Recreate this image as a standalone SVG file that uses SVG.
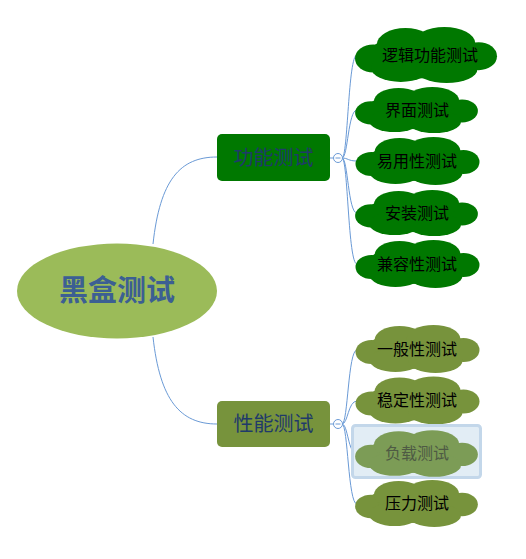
<svg xmlns="http://www.w3.org/2000/svg" xmlns:xlink="http://www.w3.org/1999/xlink" width="526" height="559" viewBox="0 0 526 559">
<style>
.conn{fill:none;stroke:#6A9AD6;stroke-width:1}
.ct{font-family:"Noto Sans CJK SC","Noto Sans",sans-serif;font-size:16px;fill:#000;text-anchor:middle}
.bt{font-family:"Noto Sans CJK SC","Noto Sans",sans-serif;font-size:20px;fill:#1F3A6A;text-anchor:middle}
.toggle{fill:#fff;stroke:#6A9AD6;stroke-width:1}
.green{fill:#007800}
.olive{fill:#77933C}
</style>
<defs>
<g id="cloud">
<ellipse cx="0" cy="1" rx="52" ry="19"/>
<ellipse cx="-46" cy="3" rx="16" ry="12"/>
<ellipse cx="46" cy="1" rx="16" ry="12"/>
<ellipse cx="-18" cy="-9" rx="25" ry="14"/>
<ellipse cx="16" cy="-10" rx="27" ry="14"/>
<ellipse cx="-22" cy="11" rx="26" ry="12"/>
<ellipse cx="18" cy="12" rx="27" ry="12"/>
</g>
</defs>
<rect width="526" height="559" fill="#fff"/>
<g id="connectors">
<path class="conn" d="M153,244 C160,180 180,157 217,157"/>
<path class="conn" d="M153,337 C160,400 180,424 217,424"/>
<path class="conn" d="M330,158 L333,158"/>
<path class="conn" d="M330,424 L333,424"/>
<path class="conn" d="M342,158 C348,158 348,55 357,55"/>
<path class="conn" d="M342,158 C348,158 348,110 357,110"/>
<path class="conn" d="M342,158 C348,158 348,161 357,161"/>
<path class="conn" d="M342,158 C348,158 348,213 357,213"/>
<path class="conn" d="M342,158 C348,158 348,264 357,264"/>
<path class="conn" d="M342,424 C348,424 348,350 357,350"/>
<path class="conn" d="M342,424 C348,424 348,401 357,401"/>
<path class="conn" d="M342,424 C348,424 348,454 357,454"/>
<path class="conn" d="M342,424 C348,424 348,504 357,504"/>
</g>
<g id="root">
<ellipse cx="117" cy="291" rx="100" ry="47.5" fill="#9BBB59"/>
<text x="117" y="301" font-family="'Noto Sans CJK SC','Noto Sans',sans-serif" font-size="29" font-weight="bold" fill="#3C5F93" text-anchor="middle">黑盒测试</text>
</g>
<g id="branch-func">
<rect x="217" y="134" width="113" height="47" rx="5" class="green"/>
<text class="bt" x="273.5" y="164.5">功能测试</text>
<circle class="toggle" cx="338" cy="158" r="4.5"/>
<line x1="335.5" y1="158" x2="340.5" y2="158" stroke="#6A9AD6" stroke-width="1"/>
</g>
<g id="branch-perf">
<rect x="217" y="401" width="113" height="46" rx="5" class="olive"/>
<text class="bt" x="273.5" y="431">性能测试</text>
<circle class="toggle" cx="338" cy="424" r="4.5"/>
<line x1="335.5" y1="424" x2="340.5" y2="424" stroke="#6A9AD6" stroke-width="1"/>
</g>
<g id="c1"><use xlink:href="#cloud" class="green" transform="translate(426,55) scale(1.145,1.17)"/><text class="ct" x="430" y="60.5">逻辑功能测试</text></g>
<g id="c2"><use xlink:href="#cloud" class="green" transform="translate(416.5,110) scale(0.99,0.96)"/><text class="ct" x="417" y="115.5">界面测试</text></g>
<g id="c3"><use xlink:href="#cloud" class="green" transform="translate(417.5,161)"/><text class="ct" x="417" y="166.5">易用性测试</text></g>
<g id="c4"><use xlink:href="#cloud" class="green" transform="translate(416.5,213) scale(0.99,0.96)"/><text class="ct" x="417" y="218.5">安装测试</text></g>
<g id="c5"><use xlink:href="#cloud" class="green" transform="translate(417.5,264)"/><text class="ct" x="417" y="269.5">兼容性测试</text></g>
<g id="c6"><use xlink:href="#cloud" class="olive" transform="translate(417.5,349)"/><text class="ct" x="417" y="355">一般性测试</text></g>
<g id="c7"><use xlink:href="#cloud" class="olive" transform="translate(417.5,400.5)"/><text class="ct" x="417" y="406">稳定性测试</text></g>
<g id="c8">
<rect x="352.5" y="425.5" width="128" height="52" rx="3" fill="#E2EDF5" stroke="#C3D7EA" stroke-width="3"/>
<use xlink:href="#cloud" fill="#7C9C56" transform="translate(416.5,453.5) scale(0.99,0.97)"/>
<text class="ct" x="417" y="459" style="fill:#4E5A44">负载测试</text>
</g>
<g id="c9"><use xlink:href="#cloud" class="olive" transform="translate(416.5,503.5) scale(0.99,0.98)"/><text class="ct" x="417" y="509">压力测试</text></g>
</svg>
